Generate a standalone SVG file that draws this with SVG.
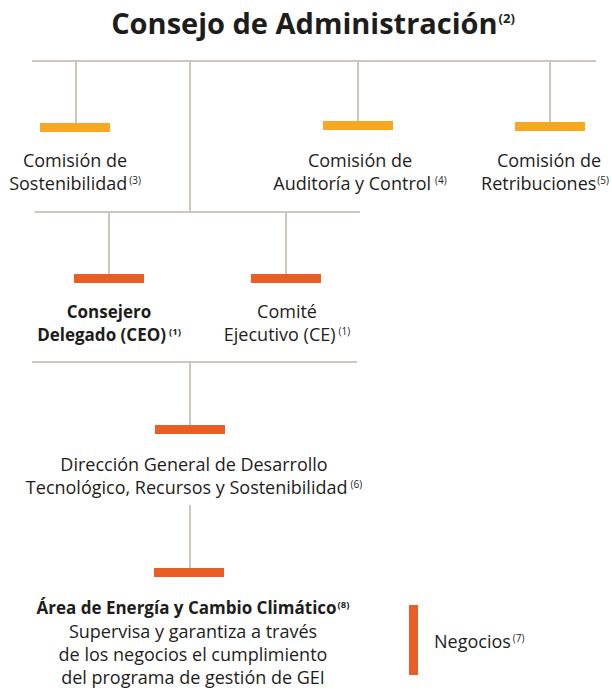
<svg xmlns="http://www.w3.org/2000/svg" width="612" height="690" viewBox="0 0 612 690">
<style>
text{font-family:"Open Sans","Noto Sans","DejaVu Sans",sans-serif;fill:#1d1d1b;text-anchor:middle;font-size:18px}
.t{font-size:29px;font-weight:700}
.b{font-weight:700;font-size:17px}
.s{font-size:10px}
.b .s{font-size:9.5px}
.ts{font-size:13px;font-weight:700}
.ln{stroke:#cdc6be;stroke-width:2;fill:none}
.y{fill:#f6a823}
.r{fill:#e95e24}
</style>
<rect width="612" height="690" fill="#ffffff"/>
<g id="connectors" class="ln">
<line x1="32" y1="61" x2="596" y2="61"/>
<line x1="76" y1="61" x2="76" y2="123"/>
<line x1="190" y1="61" x2="190" y2="212"/>
<line x1="358" y1="61" x2="358" y2="121"/>
<line x1="550" y1="61" x2="550" y2="122"/>
<line x1="35" y1="212" x2="360" y2="212"/>
<line x1="109" y1="212" x2="109" y2="274"/>
<line x1="286" y1="212" x2="286" y2="274"/>
<line x1="32" y1="362" x2="357" y2="362"/>
<line x1="190" y1="362" x2="190" y2="425"/>
<line x1="190" y1="505" x2="190" y2="568"/>
</g>
<g id="consejo">
<text class="t" x="313" y="34">Consejo de Administración<tspan class="ts" dx="1" dy="-11">(2)</tspan></text>
</g>
<g id="sostenibilidad">
<rect class="y" x="40" y="123" width="70" height="9"/>
<text x="75" y="167">Comisión de</text>
<text x="75" y="190">Sostenibilidad<tspan class="s" dx="2" dy="-6">(3)</tspan></text>
</g>
<g id="auditoria">
<rect class="y" x="323" y="121" width="70" height="9"/>
<text x="360" y="167">Comisión de</text>
<text x="360" y="190">Auditoría y Control<tspan class="s" dx="4" dy="-6">(4)</tspan></text>
</g>
<g id="retribuciones">
<rect class="y" x="515" y="122" width="70" height="9"/>
<text x="549" y="167">Comisión de</text>
<text x="545" y="190">Retribuciones<tspan class="s" dx="1" dy="-6">(5)</tspan></text>
</g>
<g id="ceo">
<rect class="r" x="74" y="274" width="70" height="9"/>
<text class="b" x="109" y="318">Consejero</text>
<text class="b" x="109" y="341">Delegado (CEO)<tspan class="s" dx="3" dy="-6">(1)</tspan></text>
</g>
<g id="comite">
<rect class="r" x="251" y="274" width="70" height="9"/>
<text x="287" y="318">Comité</text>
<text x="287" y="341">Ejecutivo (CE)<tspan class="s" dx="3" dy="-6">(1)</tspan></text>
</g>
<g id="direccion">
<rect class="r" x="155" y="425" width="70" height="9"/>
<text x="194" y="471">Dirección General de Desarrollo</text>
<text x="194" y="494">Tecnológico, Recursos y Sostenibilidad<tspan class="s" dx="3" dy="-6">(6)</tspan></text>
</g>
<g id="area">
<rect class="r" x="154" y="568" width="70" height="9"/>
<text class="b" x="193" y="614">Área de Energía y Cambio Climático<tspan class="s" dx="1" dy="-6">(8)</tspan></text>
<text x="193" y="638">Supervisa y garantiza a través</text>
<text x="193" y="661">de los negocios el cumplimiento</text>
<text x="193" y="684">del programa de gestión de GEI</text>
</g>
<g id="negocios">
<rect class="r" x="409" y="605" width="9" height="70"/>
<text x="434" y="648" style="text-anchor:start">Negocios<tspan class="s" dx="2" dy="-6">(7)</tspan></text>
</g>
</svg>
